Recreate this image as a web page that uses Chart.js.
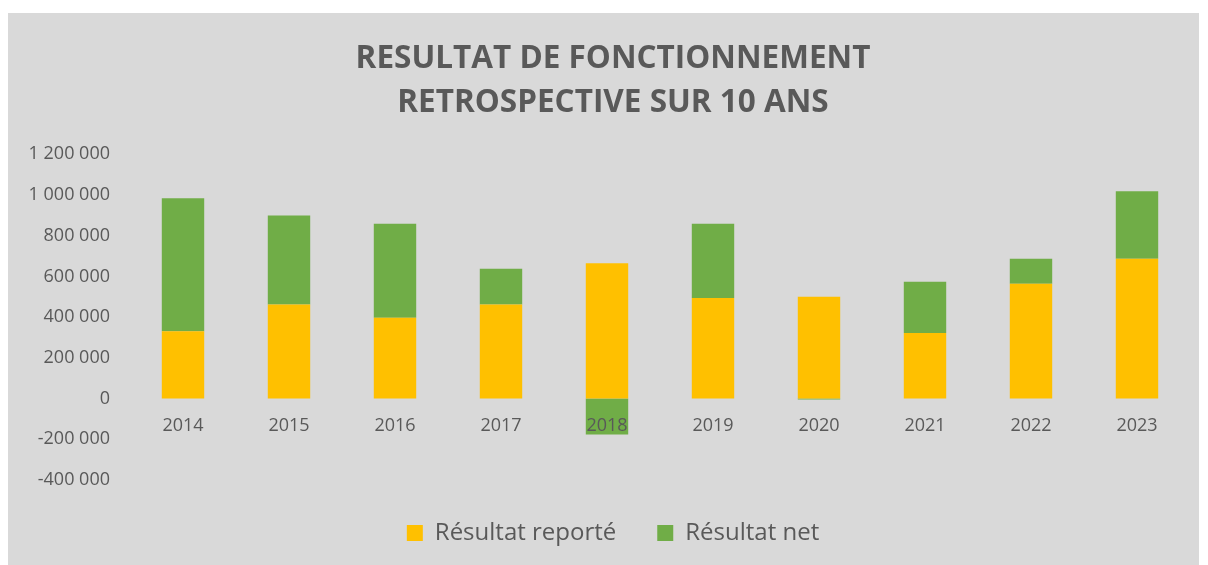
<!DOCTYPE html>
<html lang="fr">
<head>
<meta charset="utf-8">
<title>Résultat de fonctionnement</title>
<script src="https://cdn.jsdelivr.net/npm/chart.js@4/dist/chart.umd.min.js"></script>
<style>
    html, body { margin: 0; padding: 0; background: #ffffff; }
    #cadre { position: absolute; left: 8px; top: 13px; width: 1191px; height: 552px; background: #d9d9d9; }
</style>
</head>
<body>
<div id="cadre"><canvas id="graphique" width="1191" height="552"></canvas></div>
<script>
"use strict";

// Les années affichées sous les barres.
const annees = ["2014", "2015", "2016", "2017", "2018", "2019", "2020", "2021", "2022", "2023"];

// Montants (en euros).
const resultatReporte = [330000, 462000, 397000, 462000, 664000, 494000, 500000, 322000, 564000, 687000];
const resultatNet = [654000, 437000, 462000, 176000, -177000, 365000, -5000, 251000, 123000, 331000];

// Graduations de l'axe vertical.
const axeMin = -400000;
const axeMax = 1200000;
const axePas = 200000;

const gris = "#595959";
const police = "'Open Sans', 'Noto Sans', sans-serif";

// Écrit un nombre avec une espace entre les milliers, comme "1 200 000".
function formatMontant(valeur) {
    return String(valeur).replace(/\B(?=(\d{3})+(?!\d))/g, " ");
}

window.onload = function() {
    dessinerGraphique();
};

function dessinerGraphique() {
    const ctx = document.getElementById("graphique").getContext("2d");
    new Chart(ctx, {
        type: "bar",
        data: {
            labels: annees,
            datasets: [
                {
                    label: "Résultat reporté",
                    data: resultatReporte,
                    backgroundColor: "#ffc000",
                    borderWidth: 0
                },
                {
                    label: "Résultat net",
                    data: resultatNet,
                    backgroundColor: "#70ad47",
                    borderWidth: 0
                }
            ]
        },
        options: {
            responsive: false,
            animation: false,
            barPercentage: 0.4,
            categoryPercentage: 1,
            layout: {
                padding: { left: 19, right: 0, top: 0, bottom: 10 }
            },
            plugins: {
                title: {
                    display: true,
                    text: ["RESULTAT DE FONCTIONNEMENT", "RETROSPECTIVE SUR 10 ANS"],
                    color: gris,
                    font: { family: police, size: 31.5, weight: "bold", lineHeight: 1.4 },
                    padding: { top: 24, bottom: 29 }
                },
                legend: {
                    position: "bottom",
                    labels: {
                        boxWidth: 16,
                        boxHeight: 16,
                        padding: 41,
                        color: gris,
                        font: { family: police, size: 24 }
                    }
                },
                tooltip: { enabled: false }
            },
            scales: {
                x: {
                    stacked: true,
                    // L'axe des années se place sur la ligne du zéro, ses textes par-dessus les barres.
                    position: { y: 0 },
                    grid: { display: false, drawTicks: false },
                    border: { display: false },
                    ticks: {
                        z: 1,
                        color: gris,
                        padding: 17,
                        font: { family: police, size: 18 }
                    }
                },
                y: {
                    stacked: true,
                    min: axeMin,
                    max: axeMax,
                    grid: { display: false, drawTicks: false },
                    border: { display: false },
                    ticks: {
                        stepSize: axePas,
                        color: gris,
                        padding: 20,
                        font: { family: police, size: 18 },
                        callback: function(valeur) {
                            return formatMontant(valeur);
                        }
                    },
                    afterFit: function(axe) {
                        axe.width = 103;
                    }
                },
                // Petite marge à droite pour centrer le titre comme sur l'original.
                marge: {
                    type: "linear",
                    position: "right",
                    grid: { display: false, drawTicks: false },
                    border: { display: false },
                    ticks: { display: false },
                    afterFit: function(axe) {
                        axe.width = 9;
                    }
                }
            }
        }
    });
}
</script>
</body>
</html>
